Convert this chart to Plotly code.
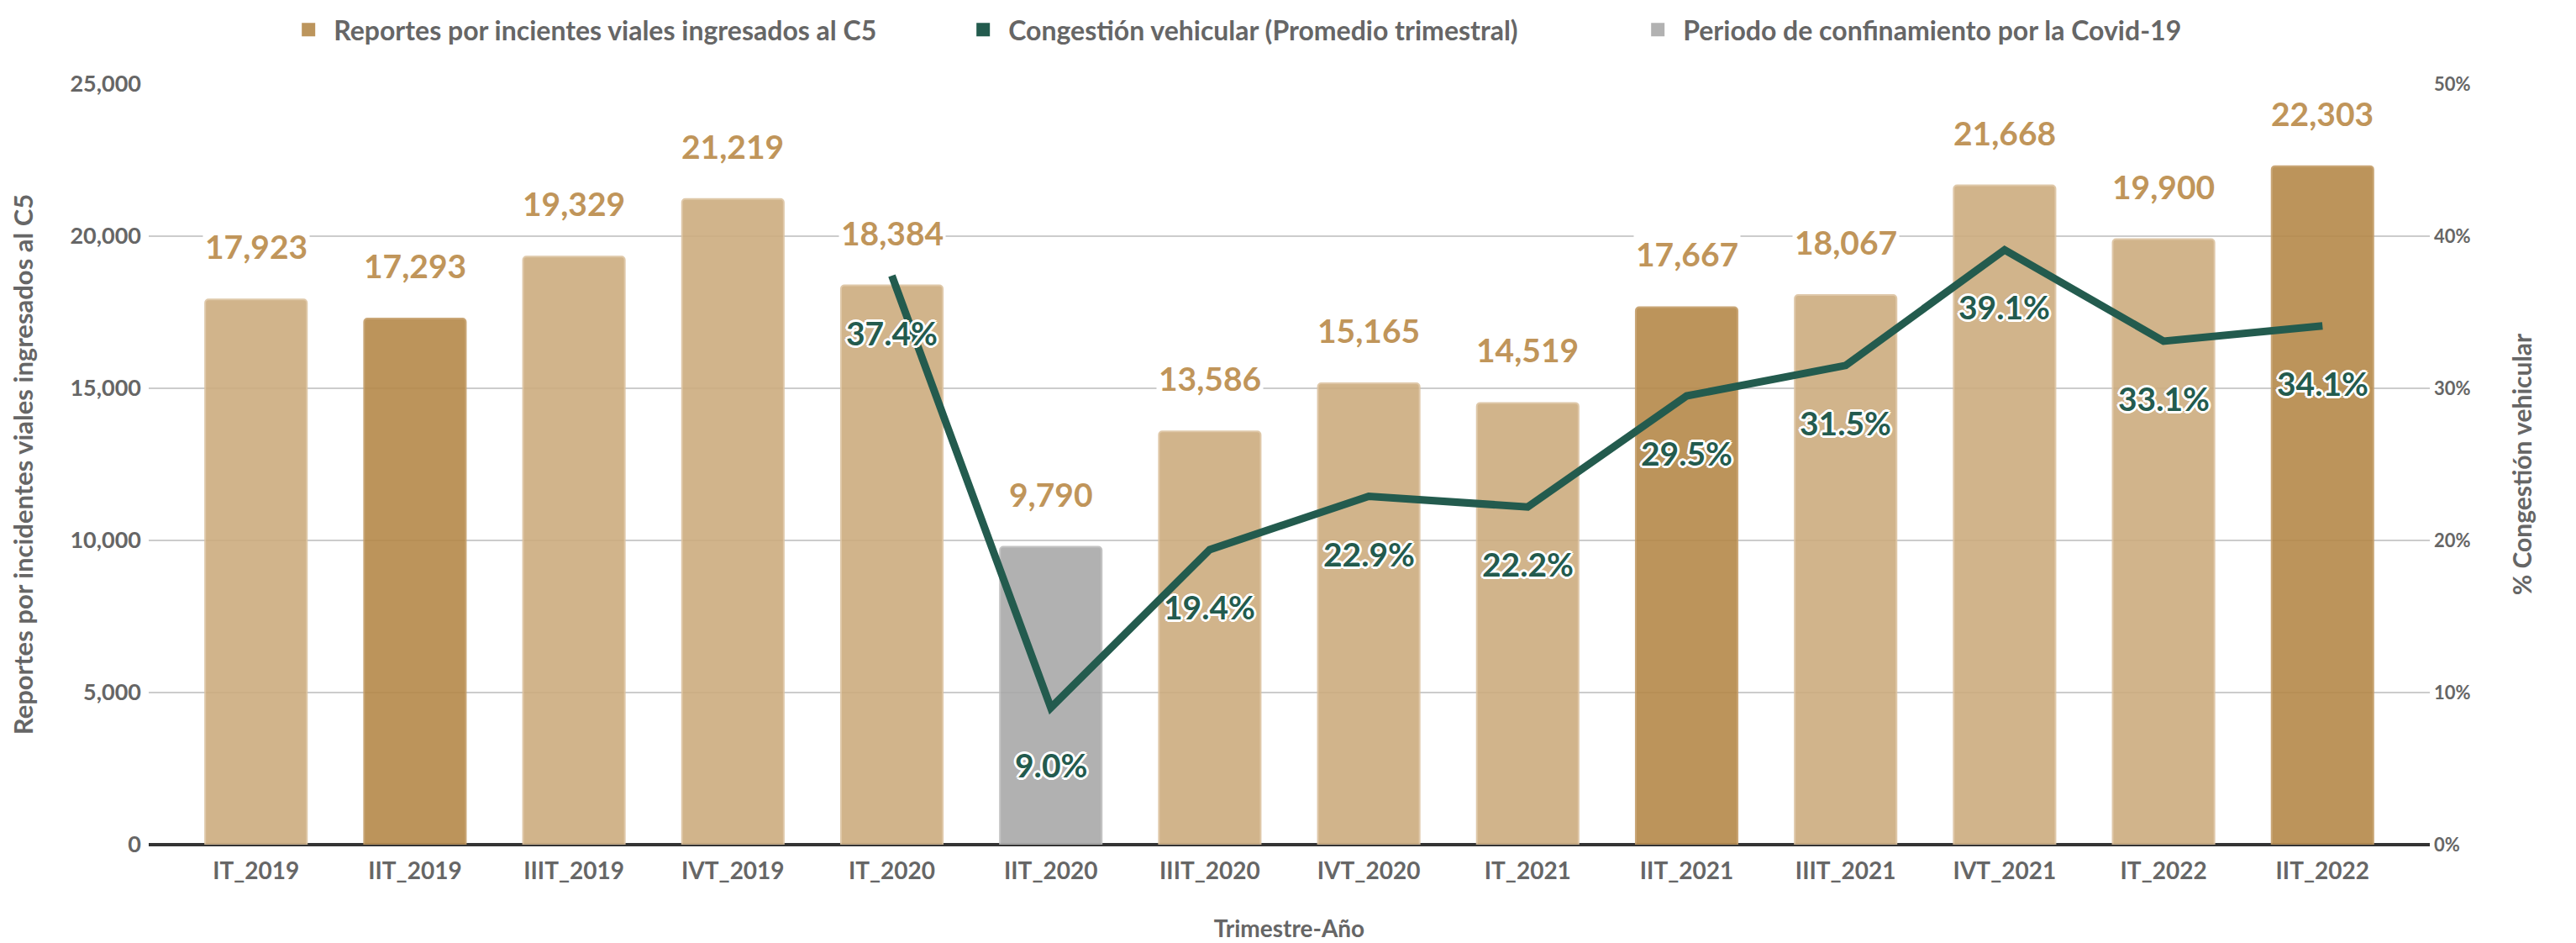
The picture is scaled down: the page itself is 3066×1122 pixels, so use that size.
import plotly.graph_objects as go

categories = ["IT_2019", "IIT_2019", "IIIT_2019", "IVT_2019", "IT_2020", "IIT_2020", "IIIT_2020",
              "IVT_2020", "IT_2021", "IIT_2021", "IIIT_2021", "IVT_2021", "IT_2022", "IIT_2022"]
reportes = [17923, 17293, 19329, 21219, 18384, 9790, 13586, 15165, 14519, 17667, 18067, 21668, 19900, 22303]
congestion = [None, None, None, None, 37.4, 9.0, 19.4, 22.9, 22.2, 29.5, 31.5, 39.1, 33.1, 34.1]
bar_kind = ["light", "dark", "light", "light", "light", "covid", "light",
            "light", "light", "dark", "light", "light", "light", "dark"]
left_ticks = [0, 5000, 10000, 15000, 20000, 25000]
left_tick_labels = ["0", "5,000", "10,000", "15,000", "20,000", "25,000"]
right_ticks = [0, 10, 20, 30, 40, 50]
right_tick_labels = ["0%", "10%", "20%", "30%", "40%", "50%"]

LIGHT = "#CDAC7F"   # rendered at 0.9 opacity over white -> ~#D2B48C
DARK = "#B5894A"    # -> ~#BC955C
GRAY = "#A9A9A9"    # -> ~#B2B2B2
GREEN = "#235B4E"
GOLD = "#C0955A"
TXT = "#666666"
FONT = "Lato"

color_map = {"light": LIGHT, "dark": DARK, "covid": GRAY}
line_map = {"light": "#DCC3A0", "dark": "#C49D68", "covid": "#BDBDBD"}

fig = go.Figure()

fig.add_trace(go.Bar(
    x=categories, y=reportes,
    marker=dict(color=[color_map[k] for k in bar_kind],
                line=dict(color=[line_map[k] for k in bar_kind], width=2),
                cornerradius=4, opacity=0.9),
    showlegend=False, hoverinfo="x+y",
))

fig.add_trace(go.Scatter(
    x=categories, y=congestion, yaxis="y2", mode="lines",
    line=dict(color=GREEN, width=9), showlegend=False, connectgaps=False,
))

# legend-only entries
legend_items = [("Reportes por incientes viales ingresados al C5", "#BC955C"),
                ("Congestión vehicular (Promedio trimestral)", GREEN),
                ("Periodo de confinamiento por la Covid-19", "#B2B2B2")]
for name, col in legend_items:
    fig.add_trace(go.Scatter(x=[None], y=[None], mode="markers", name=name,
                             marker=dict(color=col, symbol="square", size=22)))

annotations = []
for c, v in zip(categories, reportes):
    annotations.append(dict(
        x=c, y=v, xref="x", yref="y", text=f"{v:,}", showarrow=False,
        yshift=63, yanchor="middle", bgcolor="white", borderpad=2,
        font=dict(family=FONT, size=39, color=GOLD, weight="bold"),
    ))

halo = ", ".join(f"{dx}px {dy}px 0 white" for dx, dy in
                 [(3, 0), (-3, 0), (0, 3), (0, -3), (2, 2), (-2, 2), (2, -2), (-2, -2)])
for c, v in zip(categories, congestion):
    if v is None:
        continue
    annotations.append(dict(
        x=c, y=v, xref="x", yref="y2", text=f"{v:.1f}%", showarrow=False,
        yshift=-68, yanchor="middle",
        font=dict(family=FONT, size=39, color=GREEN, weight="bold", shadow=halo),
    ))

fig.update_layout(
    width=3066, height=1122,
    margin=dict(l=169, r=182, t=92, b=125, autoexpand=False),
    paper_bgcolor="white", plot_bgcolor="white",
    font=dict(family=FONT, color=TXT, size=22),
    bargap=0.36,
    annotations=annotations,
    legend=dict(orientation="h", x=0.059, xanchor="left", yref="container", y=1.0, yanchor="top",
                font=dict(family=FONT, size=32, color=TXT, weight="bold"),
                entrywidth=738, itemwidth=50, traceorder="normal", itemsizing="trace",
                borderwidth=0),
    xaxis=dict(
        title=dict(text="Trimestre-Año", font=dict(size=28, color=TXT, weight="bold"), standoff=44),
        tickfont=dict(size=28, color=TXT, weight="bold"),
        range=[-0.675, len(categories) - 1 + 0.675],
        showgrid=False, showline=False, ticks="", ticklabelstandoff=12,
    ),
    yaxis=dict(
        title=dict(text="Reportes por incidentes viales ingresados al C5",
                   font=dict(size=31, color=TXT, weight="bold"), standoff=36),
        range=[0, 25000], tickvals=left_ticks, ticktext=left_tick_labels,
        tickfont=dict(size=27, color=TXT, weight="bold"),
        showgrid=True, gridcolor="#CCCCCC", gridwidth=2,
        zeroline=True, zerolinecolor="#333333", zerolinewidth=4,
        ticklabelstandoff=8,
    ),
    yaxis2=dict(
        title=dict(text="% Congestión vehicular", font=dict(size=30, color=TXT, weight="bold"), standoff=52),
        overlaying="y", side="right", range=[0, 50], tickvals=right_ticks, ticktext=right_tick_labels,
        tickfont=dict(size=22, color=TXT, weight="bold"),
        showgrid=False, zeroline=False, ticklabelstandoff=4,
    ),
)

fig.write_html("out.html")
